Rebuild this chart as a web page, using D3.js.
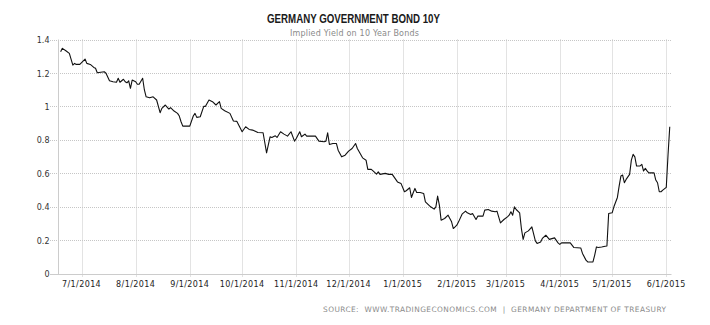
<!DOCTYPE html>
<html>
<head>
<meta charset="utf-8">
<script src="https://cdn.jsdelivr.net/npm/d3@7"></script>
<style>
  html, body { margin: 0; padding: 0; background: #fff; }
  svg { display: block; }
</style>
</head>
<body>
<svg id="chart" width="710" height="325"></svg>
<script>
// Germany 10Y government bond yield, daily observations
const dates = [
  "2014-06-19","2014-06-20","2014-06-22","2014-06-24","2014-06-26","2014-06-27","2014-06-28","2014-06-30",
  "2014-07-03","2014-07-04","2014-07-06","2014-07-08","2014-07-09","2014-07-10","2014-07-12","2014-07-14",
  "2014-07-15","2014-07-17","2014-07-19","2014-07-21","2014-07-22","2014-07-23","2014-07-25","2014-07-26",
  "2014-07-27","2014-07-28","2014-07-29","2014-07-30",
  "2014-08-01","2014-08-02","2014-08-03","2014-08-05","2014-08-06","2014-08-07","2014-08-09","2014-08-11",
  "2014-08-13","2014-08-15","2014-08-16","2014-08-18","2014-08-20","2014-08-21","2014-08-23","2014-08-25",
  "2014-08-26","2014-08-27","2014-08-28",
  "2014-09-01","2014-09-03","2014-09-04","2014-09-05","2014-09-07","2014-09-09","2014-09-10","2014-09-12",
  "2014-09-14","2014-09-16","2014-09-18","2014-09-19","2014-09-21","2014-09-24","2014-09-26","2014-09-28",
  "2014-10-01","2014-10-03","2014-10-05","2014-10-07","2014-10-10","2014-10-13","2014-10-15","2014-10-17",
  "2014-10-18","2014-10-20","2014-10-21","2014-10-23","2014-10-25","2014-10-27","2014-10-29","2014-10-31",
  "2014-11-01","2014-11-03","2014-11-04","2014-11-06","2014-11-07","2014-11-11","2014-11-12","2014-11-14",
  "2014-11-17","2014-11-18","2014-11-19","2014-11-20","2014-11-22","2014-11-24","2014-11-25","2014-11-27",
  "2014-11-29",
  "2014-12-01","2014-12-03","2014-12-05","2014-12-06","2014-12-09","2014-12-11","2014-12-12","2014-12-14",
  "2014-12-15","2014-12-17","2014-12-18","2014-12-19","2014-12-22","2014-12-24","2014-12-26","2014-12-27",
  "2014-12-29","2014-12-31",
  "2015-01-02","2015-01-03","2015-01-05","2015-01-06","2015-01-07","2015-01-08","2015-01-09","2015-01-11",
  "2015-01-13","2015-01-14","2015-01-17","2015-01-19","2015-01-20","2015-01-21","2015-01-22","2015-01-23",
  "2015-01-25","2015-01-27","2015-01-28","2015-01-29","2015-01-30",
  "2015-02-01","2015-02-02","2015-02-04","2015-02-06","2015-02-07","2015-02-09","2015-02-10","2015-02-12",
  "2015-02-13","2015-02-16","2015-02-17","2015-02-19","2015-02-21","2015-02-23","2015-02-24","2015-02-26",
  "2015-02-28",
  "2015-03-02","2015-03-03","2015-03-04","2015-03-05","2015-03-06","2015-03-07","2015-03-09","2015-03-10",
  "2015-03-11","2015-03-12","2015-03-14","2015-03-16","2015-03-18","2015-03-19","2015-03-21","2015-03-22",
  "2015-03-24","2015-03-26","2015-03-28","2015-03-29","2015-03-31",
  "2015-04-01","2015-04-02","2015-04-07","2015-04-09","2015-04-13","2015-04-14","2015-04-16","2015-04-17",
  "2015-04-20","2015-04-21","2015-04-22","2015-04-23","2015-04-25","2015-04-27","2015-04-28","2015-04-29",
  "2015-05-01","2015-05-02","2015-05-04","2015-05-05","2015-05-06","2015-05-07","2015-05-08","2015-05-09",
  "2015-05-11","2015-05-12","2015-05-13","2015-05-14","2015-05-15","2015-05-17","2015-05-18","2015-05-19",
  "2015-05-20","2015-05-21","2015-05-22","2015-05-25","2015-05-26","2015-05-27","2015-05-28","2015-05-29",
  "2015-05-30",
  "2015-06-01","2015-06-02","2015-06-03"
];

const yields = [
  1.327,1.347,1.333,1.317,1.247,1.257,1.251,1.251,
  1.283,1.257,1.251,1.233,1.228,1.201,1.204,1.207,
  1.198,1.153,1.147,1.144,1.168,1.144,1.162,1.147,
  1.141,1.153,1.108,1.157,
  1.147,1.132,1.132,1.168,1.098,1.057,1.051,1.057,
  1.038,0.962,0.988,1.008,0.984,0.992,0.972,0.958,
  0.942,0.908,0.882,
  0.882,0.942,0.958,0.934,0.938,1.000,1.000,1.038,
  1.028,1.008,1.028,0.988,0.974,0.958,0.912,0.910,
  0.848,0.878,0.862,0.858,0.844,0.842,0.722,0.818,
  0.814,0.824,0.814,0.848,0.834,0.822,0.848,0.792,
  0.808,0.848,0.818,0.834,0.822,0.822,0.822,0.792,
  0.788,0.792,0.842,0.772,0.778,0.778,0.738,0.698,
  0.708,
  0.732,0.748,0.778,0.748,0.692,0.678,0.623,0.623,
  0.614,0.595,0.608,0.593,0.599,0.593,0.593,0.578,
  0.548,0.539,
  0.489,0.495,0.513,0.455,0.483,0.509,0.485,0.485,
  0.479,0.429,0.399,0.385,0.399,0.463,0.409,0.319,
  0.329,0.349,0.329,0.309,0.269,
  0.289,0.309,0.355,0.373,0.363,0.353,0.359,0.323,
  0.343,0.343,0.379,0.383,0.373,0.369,0.373,0.303,
  0.323,
  0.339,0.349,0.369,0.349,0.399,0.383,0.363,0.269,
  0.204,0.243,0.255,0.279,0.195,0.180,0.189,0.210,
  0.229,0.204,0.210,0.213,0.183,
  0.174,0.183,0.183,0.156,0.153,0.120,0.080,0.069,
  0.069,0.110,0.159,0.156,0.159,0.163,0.165,0.359,
  0.363,0.399,0.455,0.523,0.583,0.589,0.543,0.563,
  0.593,0.678,0.713,0.698,0.643,0.644,0.653,0.613,
  0.629,0.614,0.602,0.602,0.559,0.543,0.489,0.489,
  0.499,
  0.515,0.708,0.878
];

const yTickValues = [0, 0.2, 0.4, 0.6, 0.8, 1, 1.2, 1.4];
const titleText = "GERMANY GOVERNMENT BOND 10Y";
const subtitleText = "Implied Yield on 10 Year Bonds";
const sourceText = "SOURCE:  WWW.TRADINGECONOMICS.COM  |  GERMANY DEPARTMENT OF TREASURY";

(function () {
  const parse = d3.timeParse("%Y-%m-%d");
  const series = dates.map((d, i) => ({ date: parse(d), value: yields[i] }));

  const svg = d3.select("#chart");
  const plotLeft = 58, plotRight = 671.5, plotTop = 39.5, plotBottom = 273.5;

  const x = d3.scaleTime()
    .domain([new Date(2014, 5, 17, 12), new Date(2015, 5, 4)])
    .range([plotLeft, plotRight]);
  const y = d3.scaleLinear().domain([0, 1.4]).range([plotBottom, plotTop]);

  const fmt = d3.timeFormat("%-m/%-d/%Y");
  const xTicks = x.ticks(d3.timeMonth.every(1));
  const snap = v => Math.round(v) + 0.5;

  // dotted grid
  const grid = svg.append("g")
    .attr("fill", "none")
    .attr("stroke", "#c6c6c6")
    .attr("stroke-width", 1)
    .attr("stroke-dasharray", "1,1");

  grid.selectAll("line.h")
    .data(yTickValues.filter(v => v > 0))
    .join("line")
    .attr("class", "h")
    .attr("x1", 50).attr("x2", plotRight)
    .attr("y1", d => snap(y(d))).attr("y2", d => snap(y(d)));

  grid.selectAll("line.v")
    .data(xTicks)
    .join("line")
    .attr("class", "v")
    .attr("x1", d => snap(x(d))).attr("x2", d => snap(x(d)))
    .attr("y1", plotTop).attr("y2", plotBottom + 3);

  // axis lines
  svg.append("line")
    .attr("x1", plotLeft + 0.5).attr("x2", plotLeft + 0.5)
    .attr("y1", plotTop).attr("y2", snap(y(0)))
    .attr("stroke", "#cccccc").attr("stroke-width", 1);
  svg.append("line")
    .attr("x1", 50).attr("x2", plotRight)
    .attr("y1", snap(y(0))).attr("y2", snap(y(0)))
    .attr("stroke", "#cccccc").attr("stroke-width", 1);

  // y labels
  svg.append("g")
    .selectAll("text")
    .data(yTickValues)
    .join("text")
    .attr("x", 49.5)
    .attr("y", d => y(d) + 3.6)
    .attr("text-anchor", "end")
    .attr("font-family", "DejaVu Sans, sans-serif")
    .attr("font-size", 8)
    .attr("fill", "#333")
    .text(d => d3.format("~g")(d));

  // x labels
  svg.append("g")
    .selectAll("text")
    .data(xTicks)
    .join("text")
    .attr("x", d => x(d))
    .attr("y", 287)
    .attr("text-anchor", "middle")
    .attr("font-family", "DejaVu Sans, sans-serif")
    .attr("font-size", 8)
    .attr("letter-spacing", 0.4)
    .attr("fill", "#222")
    .text(d => fmt(d));

  // yield line
  svg.append("path")
    .datum(series)
    .attr("fill", "none")
    .attr("stroke", "#111")
    .attr("stroke-width", 1.1)
    .attr("stroke-linejoin", "round")
    .attr("d", d3.line().x(d => x(d.date)).y(d => y(d.value)));

  // titles
  svg.append("text")
    .attr("x", 353.5).attr("y", 22.5)
    .attr("text-anchor", "middle")
    .attr("font-family", "Liberation Sans, Arial, sans-serif")
    .attr("font-weight", "bold")
    .attr("font-size", 12)
    .attr("textLength", 173)
    .attr("lengthAdjust", "spacingAndGlyphs")
    .attr("fill", "#1a1a1a")
    .text(titleText);

  svg.append("text")
    .attr("x", 354.5).attr("y", 36)
    .attr("text-anchor", "middle")
    .attr("font-family", "DejaVu Sans, sans-serif")
    .attr("font-size", 8)
    .attr("letter-spacing", 0.2)
    .attr("fill", "#8a8a8a")
    .text(subtitleText);

  svg.append("text")
    .attr("x", 323).attr("y", 311.5)
    .attr("font-family", "DejaVu Sans, sans-serif")
    .attr("font-size", 7.4)
    .attr("textLength", 343)
    .attr("lengthAdjust", "spacing")
    .attr("fill", "#8a8a8a")
    .style("white-space", "pre")
    .text(sourceText);
})();
</script>
</body>
</html>
